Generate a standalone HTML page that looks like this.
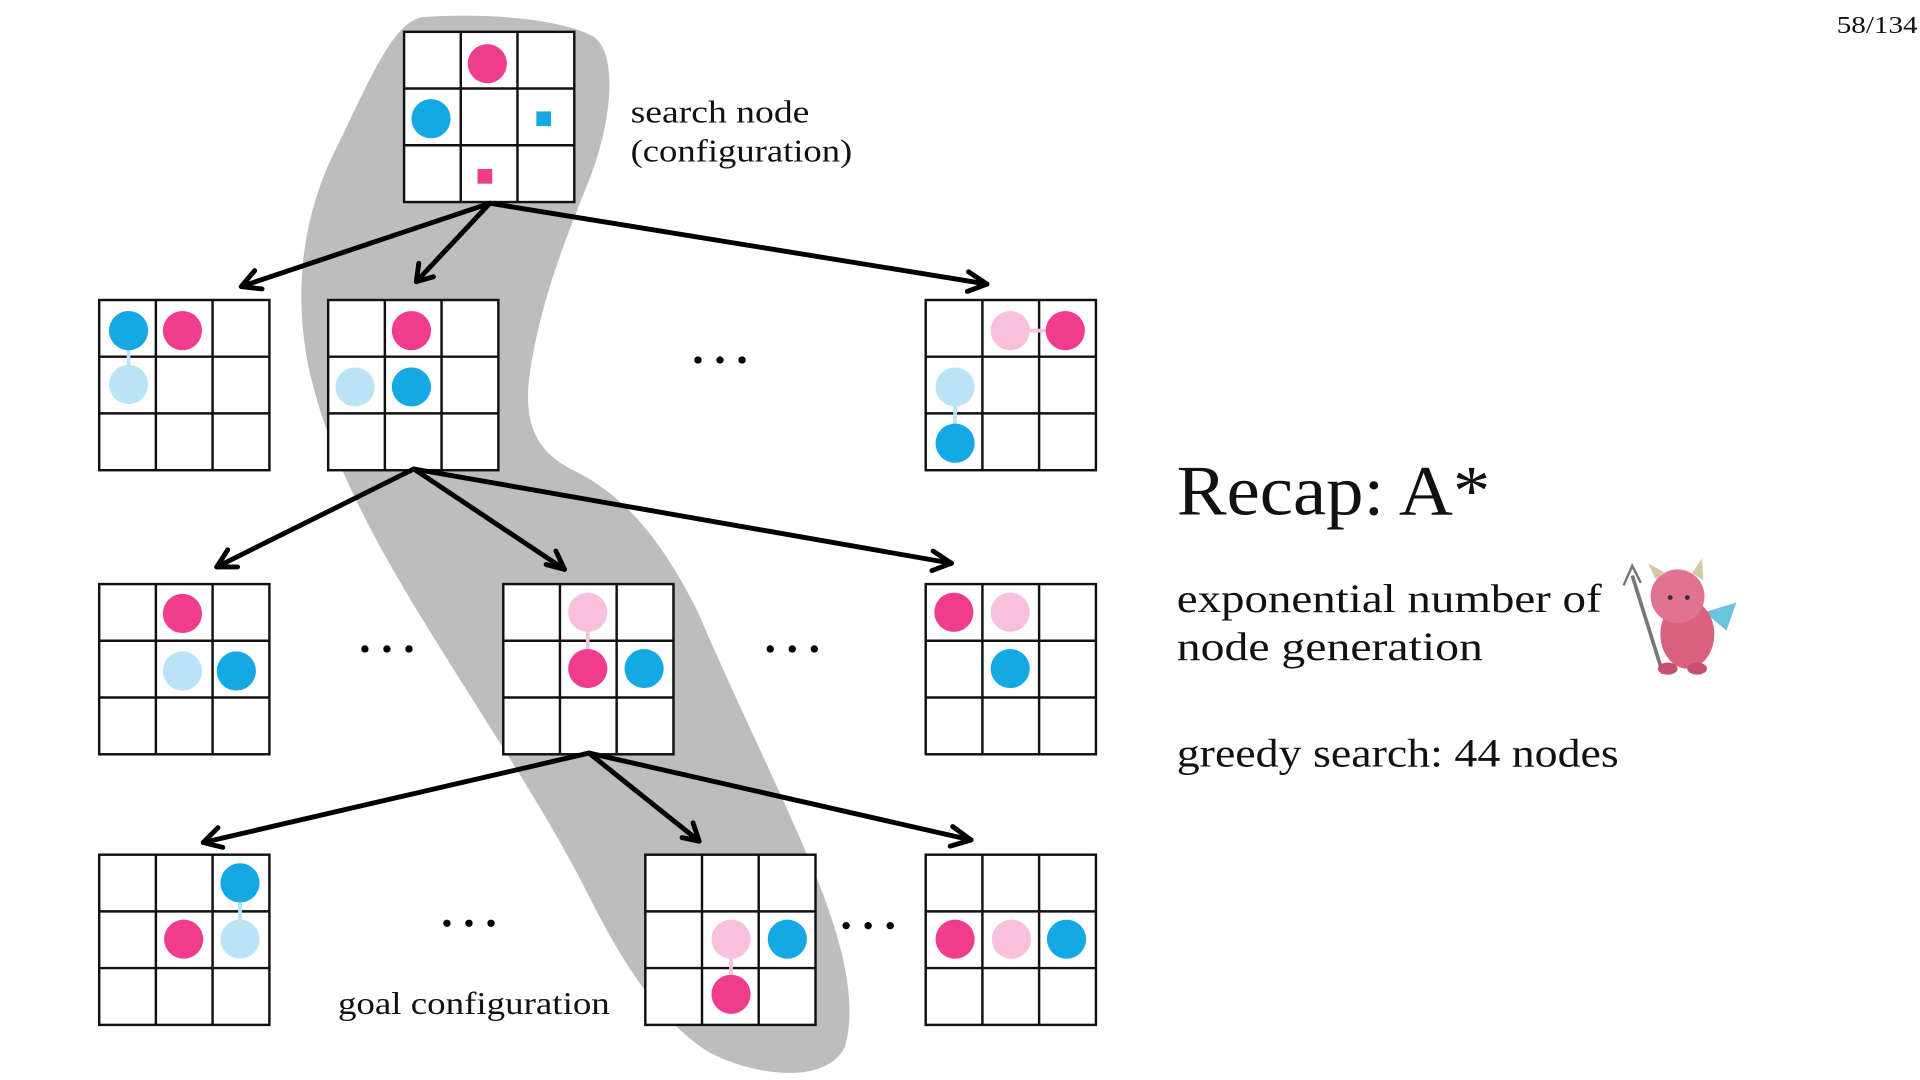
<!DOCTYPE html>
<html><head><meta charset="utf-8"><style>html,body{margin:0;padding:0;background:#fff}svg{display:block}</style></head><body>
<svg width="1920" height="1080" viewBox="0 0 1568 882" xmlns="http://www.w3.org/2000/svg" font-family="'Liberation Serif', serif">
<defs>
<g id="grid" stroke="#111" stroke-width="2">
<rect x="0" y="0" width="139" height="139" fill="#fff"/>
<line x1="46.3" y1="0" x2="46.3" y2="139"/><line x1="92.6" y1="0" x2="92.6" y2="139"/>
<line x1="0" y1="46.3" x2="139" y2="46.3"/><line x1="0" y1="92.6" x2="139" y2="92.6"/>
</g>
</defs>
<path d="M345,14 C400,10 460,16 485,30 C505,45 500,100 480,150 C460,200 440,250 432,310 C428,350 440,370 470,385 C510,405 540,440 570,500 C600,570 630,630 660,700 C690,770 700,820 690,855 C675,885 620,880 580,860 C540,835 510,790 480,730 C450,670 410,610 360,530 C310,450 270,380 252,300 C238,230 250,170 275,120 C300,70 320,18 345,14 Z" fill="#bdbdbd"/>
<use href="#grid" x="330" y="26"/>
<use href="#grid" x="81" y="245"/><use href="#grid" x="268" y="245"/><use href="#grid" x="756" y="245"/>
<use href="#grid" x="81" y="477"/><use href="#grid" x="411" y="477"/><use href="#grid" x="756" y="477"/>
<use href="#grid" x="81" y="698"/><use href="#grid" x="527" y="698"/><use href="#grid" x="756" y="698"/>
<g stroke="#000" stroke-width="4" fill="none" stroke-linecap="round" stroke-linejoin="round">
<line x1="400" y1="166" x2="197" y2="234"/><polyline points="208,221 197,234 214,236"/>
<line x1="400" y1="166" x2="340" y2="230"/><polyline points="342,215 340,230 354,226"/>
<line x1="400" y1="166" x2="806" y2="232"/><polyline points="791,222 806,232 790,238"/>
<line x1="338" y1="383" x2="177" y2="463"/><polyline points="186,449 177,463 194,463"/>
<line x1="338" y1="383" x2="461" y2="465"/><polyline points="446,461 461,465 454,450"/>
<line x1="338" y1="383" x2="777" y2="460"/><polyline points="762,450 777,460 761,466"/>
<line x1="481" y1="615" x2="166" y2="688"/><polyline points="178,676 166,688 182,692"/>
<line x1="481" y1="615" x2="571" y2="687"/><polyline points="557,684 571,687 566,672"/>
<line x1="481" y1="615" x2="793" y2="686"/><polyline points="778,675 793,686 776,691"/>
</g>
<g>
<circle cx="398" cy="52" r="16" fill="#f03c8c"/><circle cx="352" cy="97" r="16" fill="#14a8e4"/>
<rect x="438" y="91" width="12" height="12" fill="#14a8e4"/><rect x="390" y="138" width="12" height="12" fill="#f03c8c"/>
<line x1="105" y1="280" x2="105" y2="304" stroke="#b9e4f6" stroke-width="3"/>
<circle cx="105" cy="270" r="16" fill="#14a8e4"/><circle cx="149" cy="270" r="16" fill="#f03c8c"/><circle cx="105" cy="314" r="16" fill="#b9e4f6"/>
<circle cx="336" cy="270" r="16" fill="#f03c8c"/><circle cx="290" cy="316" r="16" fill="#b9e4f6"/><circle cx="336" cy="316" r="16" fill="#14a8e4"/>
<line x1="825" y1="270" x2="870" y2="270" stroke="#f9c0dc" stroke-width="3"/><line x1="780" y1="316" x2="780" y2="362" stroke="#b9e4f6" stroke-width="3"/>
<circle cx="825" cy="270" r="16" fill="#f9c0dc"/><circle cx="870" cy="270" r="16" fill="#f03c8c"/><circle cx="780" cy="316" r="16" fill="#b9e4f6"/><circle cx="780" cy="362" r="16" fill="#14a8e4"/>
<circle cx="149" cy="501" r="16" fill="#f03c8c"/><circle cx="149" cy="548" r="16" fill="#b9e4f6"/><circle cx="193" cy="548" r="16" fill="#14a8e4"/>
<line x1="480" y1="500" x2="480" y2="546" stroke="#f9c0dc" stroke-width="3"/>
<circle cx="480" cy="500" r="16" fill="#f9c0dc"/><circle cx="480" cy="546" r="16" fill="#f03c8c"/><circle cx="526" cy="546" r="16" fill="#14a8e4"/>
<circle cx="779" cy="500" r="16" fill="#f03c8c"/><circle cx="825" cy="500" r="16" fill="#f9c0dc"/><circle cx="825" cy="546" r="16" fill="#14a8e4"/>
<line x1="196" y1="721" x2="196" y2="767" stroke="#b9e4f6" stroke-width="3"/>
<circle cx="196" cy="721" r="16" fill="#14a8e4"/><circle cx="150" cy="767" r="16" fill="#f03c8c"/><circle cx="196" cy="767" r="16" fill="#b9e4f6"/>
<line x1="597" y1="767" x2="597" y2="812" stroke="#f9c0dc" stroke-width="3"/>
<circle cx="597" cy="767" r="16" fill="#f9c0dc"/><circle cx="643" cy="767" r="16" fill="#14a8e4"/><circle cx="597" cy="812" r="16" fill="#f03c8c"/>
<circle cx="780" cy="767" r="16" fill="#f03c8c"/><circle cx="826" cy="767" r="16" fill="#f9c0dc"/><circle cx="871" cy="767" r="16" fill="#14a8e4"/>
</g>
<g fill="#000">
<circle cx="570" cy="294" r="3"/><circle cx="588" cy="294" r="3"/><circle cx="606" cy="294" r="3"/>
<circle cx="298" cy="530" r="3"/><circle cx="316" cy="530" r="3"/><circle cx="334" cy="530" r="3"/>
<circle cx="629" cy="530" r="3"/><circle cx="647" cy="530" r="3"/><circle cx="665" cy="530" r="3"/>
<circle cx="365" cy="754" r="3"/><circle cx="383" cy="754" r="3"/><circle cx="401" cy="754" r="3"/>
<circle cx="691" cy="756" r="3"/><circle cx="709" cy="756" r="3"/><circle cx="727" cy="756" r="3"/>
</g>
<g fill="#111" lengthAdjust="spacingAndGlyphs">
<text x="515" y="100" font-size="26" textLength="146" lengthAdjust="spacingAndGlyphs">search node</text>
<text x="515" y="132" font-size="26" textLength="181" lengthAdjust="spacingAndGlyphs">(configuration)</text>
<text x="276" y="828" font-size="26" textLength="222" lengthAdjust="spacingAndGlyphs">goal configuration</text>
<text x="961" y="420" font-size="58" textLength="256" lengthAdjust="spacingAndGlyphs">Recap: A*</text>
<text x="961" y="500" font-size="33" textLength="347" lengthAdjust="spacingAndGlyphs">exponential number of</text>
<text x="961" y="539" font-size="33" textLength="250" lengthAdjust="spacingAndGlyphs">node generation</text>
<text x="961" y="626" font-size="33" textLength="361" lengthAdjust="spacingAndGlyphs">greedy search: 44 nodes</text>
<text x="1500" y="27" font-size="20" textLength="66" lengthAdjust="spacingAndGlyphs">58/134</text>
</g>
<g>
<line x1="1333" y1="470" x2="1358" y2="550" stroke="#777" stroke-width="3"/>
<path d="M1326,478 L1333,462 L1340,476" fill="none" stroke="#777" stroke-width="2"/>
<path d="M1392,500 L1418,492 L1410,515 Z" fill="#6cc3dc"/>
<ellipse cx="1378" cy="518" rx="22" ry="28" fill="#d9607e"/>
<circle cx="1370" cy="487" r="22" fill="#e27291"/>
<path d="M1352,473 L1346,460 L1360,468 Z M1382,468 L1390,456 L1391,474 Z" fill="#d4c7a8"/>
<ellipse cx="1362" cy="546" rx="8" ry="5" fill="#c94f70"/><ellipse cx="1386" cy="546" rx="8" ry="5" fill="#c94f70"/>
<circle cx="1364" cy="488" r="2" fill="#333"/><circle cx="1378" cy="488" r="2" fill="#333"/>
</g>
</svg>
</body></html>
